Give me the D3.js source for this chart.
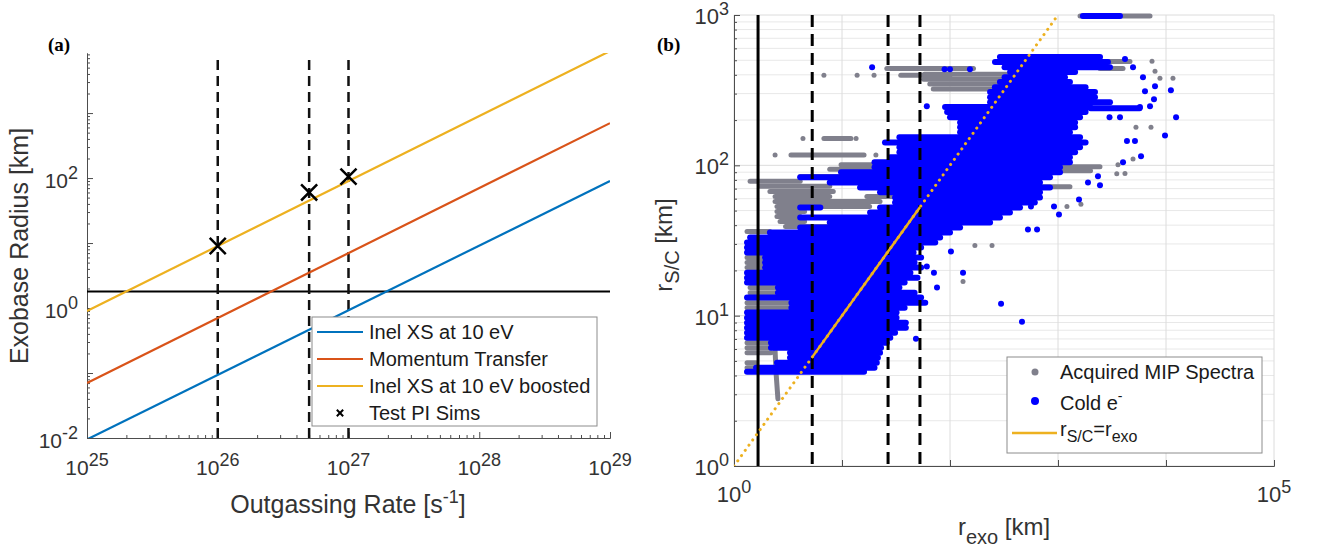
<!DOCTYPE html>
<html>
<head>
<meta charset="utf-8">
<script src="https://cdn.jsdelivr.net/npm/d3@7"></script>
<style>
  body { margin: 0; background: #fff; }
  svg text { font-family: "Liberation Sans", Arial, Helvetica, sans-serif; }
  svg text.panel { font-family: "Liberation Serif", "DejaVu Serif", serif; font-weight: bold; }
</style>
</head>
<body>
<div id="container"></div>
<script>
/* DATA */
// panel (a): straight lines in log-log, value at Q = 1e25 and at Q = 1e29
const qEnds = [1e25, 1e29]
const inelXS = [0.0095, 90]
const momentumTransfer = [0.07, 700]
const inelBoosted = [0.9, 9000]
const seriesNames = ["Inel XS at 10 eV", "Momentum Transfer", "Inel XS at 10 eV boosted"]
const seriesColors = ["#0072BD", "#D95319", "#EDB120"]
const simQ = [1e26, 5e26, 1e27]
const simR = [9, 60, 105]
const exoLimit = 1.8
const dashedQ = [1e26, 5e26, 1e27]

// panel (b): r_exo of the vertical markers
const solidExo = [1.67]
const dashedExo = [5.3, 26.7, 52.7]
const equalLine = [1, 1000]      // dotted r_S/C = r_exo
const equalSolid = [5.3, 52.7]   // solid part

// dense streaks of spectra: [r_S/C, r_exo from, r_exo to]
const grayStreaks = [
  [985, 1600, 7110], [490, 2448, 4640], [440, 26, 165], [440, 2448, 4000],
  [404, 58, 360], [398, 35, 100], [374, 57, 360], [347, 65, 290], [322, 70, 260],
  [151, 6.8, 12.1], [117, 3.37, 16], [101, 9.8, 35], [98, 1044, 2448],
  [94, 7.7, 34], [92, 1000, 2000], [84.2, 4.1, 34], [78.5, 1.41, 4.1],
  [72.5, 1.74, 7.7], [72, 681, 1290], [67, 2.15, 8.3], [62, 2.4, 7.7],
  [62, 17, 32], [57.5, 2.4, 22.5], [53.3, 2.5, 18], [49.3, 2.5, 4.5],
  [45.7, 2.5, 4.1], [42.3, 2.67, 4.5], [39.2, 3, 7.7], [36.3, 1.32, 2.15],
  [24.4, 1.32, 1.94], [22.6, 1.32, 1.94], [20.9, 1.32, 1.94],
  [15.4, 1.41, 2.55], [14.2, 1.41, 2.55], [12.2, 1.32, 3.4], [11.3, 1.32, 3.4],
  [6.61, 1.32, 2.2], [6.12, 1.32, 2.2], [5.67, 1.32, 2.2],
  [4.86, 1.32, 1.6], [4.5, 1.32, 1.6]
]
const grayTail = [[2.4, 5.9], [2.45, 4.2], [2.55, 2.8]]
const grayPoints = [
  [6.8, 398], [13.8, 398], [19.8, 398], [4.35, 151], [13.5, 151], [2.4, 117],
  [20.6, 117], [7420, 493], [7910, 423], [8790, 380], [11600, 380], [7260, 179],
  [5270, 179], [4950, 110], [3590, 101], [4170, 88.4], [3500, 88], [1630, 55],
  [1210, 53.3], [245, 29.3], [170, 29.3], [132, 16.9]
]
const blueStreaks = [
  [985, 1700, 3750],
  [525, 290, 2450], [486, 261, 2900], [450, 320, 3030], [417, 360, 1440],
  [386, 320, 1160], [358, 290, 1290], [331, 260, 1800], [307, 235, 2200],
  [284, 235, 2200], [263, 235, 3030], [244, 90, 1980], [240, 2000, 5700],
  [226, 94, 1800], [209, 100, 1600], [193, 124, 1440], [179, 124, 1440],
  [166, 124, 1290], [154, 34, 1600], [142, 25, 1800], [132, 34, 1600],
  [122, 34, 1440], [113, 28, 1290], [105, 20, 1290], [97, 20, 1044],
  [89.8, 9.8, 1044], [83.2, 4.1, 843], [77, 7.7, 681], [71.3, 14.7, 843],
  [66.1, 22.5, 681], [61.2, 31, 681], [56.7, 31, 610], [52.5, 4.1, 6.3],
  [52.5, 22.5, 445], [48.6, 18.2, 359], [45, 4.1, 290], [41.7, 7.7, 235],
  [38.6, 4.1, 124], [35.8, 2.15, 100], [33.1, 1.41, 81], [30.7, 1.32, 73],
  [28.4, 1.32, 54], [26.3, 1.32, 46], [24.4, 1.94, 54], [22.6, 1.94, 47],
  [20.9, 1.94, 54], [19.3, 1.32, 43], [17.9, 1.32, 50], [16.6, 1.32, 38],
  [15.4, 2.55, 34], [14.2, 2.55, 47], [13.2, 1.32, 54], [12.2, 3.4, 59],
  [11.3, 3.4, 38], [10.5, 1.32, 32], [9.7, 1.32, 32], [8.98, 1.32, 39],
  [8.32, 1.32, 39], [7.7, 1.32, 31], [7.13, 1.32, 28], [6.61, 2.2, 26],
  [6.12, 2.2, 23], [5.67, 3.3, 22.5], [5.25, 3.3, 21.5], [4.86, 2.5, 21],
  [4.5, 1.6, 20], [4.23, 1.32, 16]
]
const bluePoints = [
  [19, 450], [89, 436], [100, 436], [153, 436], [61, 247],
  [4170, 509], [4950, 450], [6120, 386], [7910, 336], [11100, 316], [6390, 311],
  [7740, 275], [5740, 244], [7110, 247], [12400, 209], [9790, 158], [4350, 145],
  [5160, 145], [5870, 115], [4000, 105], [2345, 84.5], [1895, 77], [2448, 73.6],
  [1565, 59.3], [918, 53.3], [1021, 47.1], [640, 37.4], [527, 37.4], [132, 19.3],
  [297, 12], [464, 9.12], [48.4, 7.03], [71, 19.3], [61, 21.2], [75.8, 15.4],
  [102, 26.7], [367, 53.3], [562, 53.3], [435, 62.1], [3000, 209], [3750, 209]
]

/* SETUP */
const width = 1317, height = 551
const AX = "#4d4d4d", TXT = "#333"
const GRAY = "#80808c", BLUE = "#0000ff", ORANGE = "#EDB120"

const svg = d3.select("#container").append("svg")
  .attr("width", width).attr("height", height)

const isMajor = v => Math.abs(Math.log10(v) - Math.round(Math.log10(v))) < 1e-9

function drawAxis(parent, orient, scale, pos, majors, minors, majLen, minLen) {
  const mk = orient === "bottom" ? d3.axisBottom : d3.axisLeft
  const g = parent.append("g")
    .attr("transform", orient === "bottom" ? `translate(0,${pos})` : `translate(${pos},0)`)
  g.append("g").call(mk(scale).tickValues(minors).tickSize(-minLen).tickSizeOuter(0).tickFormat(""))
  g.append("g").call(mk(scale).tickValues(majors).tickSize(-majLen).tickSizeOuter(0).tickFormat(""))
  g.selectAll("path.domain").attr("stroke", AX)
  g.selectAll(".tick line").attr("stroke", AX)
}

function powLabel(parent, x, y, exp, anchor, size, supSize, rise) {
  const t = parent.append("text").attr("x", x).attr("y", y)
    .attr("text-anchor", anchor).attr("font-size", size).attr("fill", TXT)
  t.append("tspan").text("10")
  t.append("tspan").attr("dy", -rise).attr("font-size", supSize).text(exp)
}

/* PANEL (a) */
const xA = d3.scaleLog().domain([1e25, 1e29]).range([87, 610])
const yA = d3.scaleLog().domain([1e-2, 8400]).range([438, 53])
const gA = svg.append("g")

svg.append("clipPath").attr("id", "clipA").append("rect")
  .attr("x", 87).attr("y", 53).attr("width", 523).attr("height", 385)

drawAxis(gA, "bottom", xA, 438, xA.ticks().filter(isMajor), xA.ticks().filter(v => !isMajor(v)), 6, 3)
drawAxis(gA, "left", yA, 87, yA.ticks().filter(isMajor), yA.ticks().filter(v => !isMajor(v)), 6, 3)

;[1e25, 1e26, 1e27, 1e28, 1e29].forEach(v =>
  powLabel(gA, xA(v), 475, String(Math.round(Math.log10(v))), "middle", 21, 18, 9))
;[1e-2, 1, 1e2].forEach(v =>
  powLabel(gA, 78, yA(v) + 10, String(Math.round(Math.log10(v))), "end", 21, 18, 9))

const plotA = gA.append("g").attr("clip-path", "url(#clipA)")

// horizontal exobase limit
plotA.append("line")
  .attr("x1", xA(1e25)).attr("x2", xA(1e29))
  .attr("y1", yA(exoLimit)).attr("y2", yA(exoLimit))
  .attr("stroke", "#000").attr("stroke-width", 2)

// dashed test outgassing rates
plotA.selectAll("line.dq").data(dashedQ).join("line")
  .attr("class", "dq")
  .attr("x1", d => xA(d)).attr("x2", d => xA(d))
  .attr("y1", yA(0.01)).attr("y2", 58)
  .attr("stroke", "#111").attr("stroke-width", 2.5).attr("stroke-dasharray", "10,6")

const seriesA = [inelXS, momentumTransfer, inelBoosted]
const lineA = d3.line().x(d => xA(d[0])).y(d => yA(d[1]))
seriesA.forEach((s, i) => {
  plotA.append("path")
    .datum(qEnds.map((q, j) => [q, s[j]]))
    .attr("d", lineA).attr("fill", "none")
    .attr("stroke", seriesColors[i]).attr("stroke-width", 2.2)
})

gA.selectAll("path.sim").data(simQ.map((q, i) => [q, simR[i]])).join("path")
  .attr("class", "sim")
  .attr("transform", d => `translate(${xA(d[0])},${yA(d[1])})`)
  .attr("d", d3.symbol(d3.symbolX).size(170))
  .attr("fill", "none").attr("stroke", "#000").attr("stroke-width", 2.5)

// legend (a)
const legA = gA.append("g")
legA.append("rect").attr("x", 312).attr("y", 317).attr("width", 285).attr("height", 109)
  .attr("fill", "#fff").attr("stroke", "#8c8c8c").attr("stroke-width", 1)
const legRowsA = [332, 359, 386, 413]
seriesNames.forEach((n, i) => {
  legA.append("line").attr("x1", 317).attr("x2", 363)
    .attr("y1", legRowsA[i]).attr("y2", legRowsA[i])
    .attr("stroke", seriesColors[i]).attr("stroke-width", 2)
  legA.append("text").attr("x", 369).attr("y", legRowsA[i] + 7)
    .attr("font-size", 20).attr("fill", "#1a1a1a").text(n)
})
legA.append("path").attr("transform", `translate(340,${legRowsA[3]})`)
  .attr("d", d3.symbol(d3.symbolX).size(28))
  .attr("fill", "none").attr("stroke", "#000").attr("stroke-width", 2)
legA.append("text").attr("x", 369).attr("y", legRowsA[3] + 7)
  .attr("font-size", 20).attr("fill", "#1a1a1a").text("Test PI Sims")

// axis titles (a)
gA.append("text").attr("transform", "translate(28,246) rotate(-90)")
  .attr("text-anchor", "middle").attr("font-size", 25).attr("fill", TXT)
  .text("Exobase Radius [km]")
const xtA = gA.append("text").attr("x", 348).attr("y", 513)
  .attr("text-anchor", "middle").attr("font-size", 25).attr("fill", TXT)
xtA.append("tspan").text("Outgassing Rate [s")
xtA.append("tspan").attr("dy", -10).attr("font-size", 18).text("-1")
xtA.append("tspan").attr("dy", 10).text("]")

gA.append("text").attr("class", "panel").attr("x", 48).attr("y", 51)
  .attr("font-size", 19).text("(a)")

/* PANEL (b) */
const xB = d3.scaleLog().domain([1, 1e5]).range([734, 1274])
const yB = d3.scaleLog().domain([1, 1000]).range([466, 15])
const gB = svg.append("g")

svg.append("clipPath").attr("id", "clipB").append("rect")
  .attr("x", 734).attr("y", 11).attr("width", 540).attr("height", 455)

// grid
const grid = gB.append("g")
grid.selectAll("line.hg").data(yB.ticks()).join("line")
  .attr("class", "hg")
  .attr("x1", xB(1)).attr("x2", xB(1e5))
  .attr("y1", d => yB(d)).attr("y2", d => yB(d))
  .attr("stroke", d => isMajor(d) ? "#dcdcdc" : "#e8e8e8").attr("stroke-width", 1)
grid.selectAll("line.vg").data(xB.ticks().filter(isMajor)).join("line")
  .attr("class", "vg")
  .attr("x1", d => xB(d)).attr("x2", d => xB(d))
  .attr("y1", yB(1)).attr("y2", yB(1000))
  .attr("stroke", "#dcdcdc").attr("stroke-width", 1)

drawAxis(gB, "bottom", xB, 466, xB.ticks().filter(isMajor), [], 6, 0)
drawAxis(gB, "left", yB, 734, yB.ticks().filter(isMajor), yB.ticks().filter(v => !isMajor(v)), 6, 3)

;[1, 1e5].forEach(v =>
  powLabel(gB, xB(v), 502, String(Math.round(Math.log10(v))), "middle", 22, 18, 9))
;[1, 10, 100, 1000].forEach(v =>
  powLabel(gB, 729, yB(v) + 9, String(Math.round(Math.log10(v))), "end", 22, 18, 9))

const plotB = gB.append("g").attr("clip-path", "url(#clipB)")

plotB.selectAll("line.gs").data(grayStreaks).join("line")
  .attr("class", "gs")
  .attr("x1", d => xB(d[1])).attr("x2", d => xB(d[2]))
  .attr("y1", d => yB(d[0])).attr("y2", d => yB(d[0]))
  .attr("stroke", GRAY).attr("stroke-width", 5).attr("stroke-linecap", "round")
plotB.append("path").datum(grayTail)
  .attr("d", d3.line().x(d => xB(d[0])).y(d => yB(d[1])))
  .attr("fill", "none").attr("stroke", GRAY).attr("stroke-width", 5).attr("stroke-linecap", "round")
plotB.selectAll("circle.gp").data(grayPoints).join("circle")
  .attr("class", "gp")
  .attr("cx", d => xB(d[0])).attr("cy", d => yB(d[1])).attr("r", 2.5).attr("fill", GRAY)

plotB.selectAll("line.bs").data(blueStreaks).join("line")
  .attr("class", "bs")
  .attr("x1", d => xB(d[1])).attr("x2", d => xB(d[2]))
  .attr("y1", d => yB(d[0])).attr("y2", d => yB(d[0]))
  .attr("stroke", BLUE).attr("stroke-width", 6).attr("stroke-linecap", "round")
plotB.selectAll("circle.bp").data(bluePoints).join("circle")
  .attr("class", "bp")
  .attr("cx", d => xB(d[0])).attr("cy", d => yB(d[1])).attr("r", 3).attr("fill", BLUE)

// vertical markers
plotB.selectAll("line.sv").data(solidExo).join("line")
  .attr("class", "sv")
  .attr("x1", d => xB(d)).attr("x2", d => xB(d))
  .attr("y1", yB(1)).attr("y2", yB(1000))
  .attr("stroke", "#000").attr("stroke-width", 3)
plotB.selectAll("line.dv").data(dashedExo).join("line")
  .attr("class", "dv")
  .attr("x1", d => xB(d)).attr("x2", d => xB(d))
  .attr("y1", yB(1000)).attr("y2", yB(1))
  .attr("stroke", "#000").attr("stroke-width", 3).attr("stroke-dasharray", "12,7")

// r_S/C = r_exo
const lineB = d3.line().x(d => xB(d)).y(d => yB(d))
plotB.append("path").datum(equalLine).attr("d", lineB)
  .attr("fill", "none").attr("stroke", ORANGE).attr("stroke-width", 3)
  .attr("stroke-linecap", "round").attr("stroke-dasharray", "0.1,6.3")
plotB.append("path").datum(equalSolid).attr("d", lineB)
  .attr("fill", "none").attr("stroke", ORANGE).attr("stroke-width", 2.5)

// legend (b)
const legB = gB.append("g")
legB.append("rect").attr("x", 1007).attr("y", 357).attr("width", 255).attr("height", 96)
  .attr("fill", "#fff").attr("stroke", "#8c8c8c").attr("stroke-width", 1)
legB.append("circle").attr("cx", 1035).attr("cy", 372).attr("r", 3.5).attr("fill", GRAY)
legB.append("text").attr("x", 1060).attr("y", 379).attr("font-size", 20).attr("fill", "#1a1a1a")
  .text("Acquired MIP Spectra")
legB.append("circle").attr("cx", 1035).attr("cy", 401).attr("r", 4).attr("fill", BLUE)
const coldT = legB.append("text").attr("x", 1060).attr("y", 410).attr("font-size", 20).attr("fill", "#1a1a1a")
coldT.append("tspan").text("Cold e")
coldT.append("tspan").attr("dy", -9).attr("font-size", 14).text("-")
legB.append("line").attr("x1", 1012).attr("x2", 1057).attr("y1", 433).attr("y2", 433)
  .attr("stroke", ORANGE).attr("stroke-width", 2.5)
const eqT = legB.append("text").attr("x", 1060).attr("y", 436).attr("font-size", 20).attr("fill", "#1a1a1a")
eqT.append("tspan").text("r")
eqT.append("tspan").attr("dy", 6).attr("font-size", 16).text("S/C")
eqT.append("tspan").attr("dy", -6).text("=r")
eqT.append("tspan").attr("dy", 6).attr("font-size", 16).text("exo")

// axis titles (b)
const ytB = gB.append("text").attr("transform", "translate(672,245) rotate(-90)")
  .attr("text-anchor", "middle").attr("font-size", 24).attr("fill", TXT)
ytB.append("tspan").text("r")
ytB.append("tspan").attr("dy", 7).attr("font-size", 20).text("S/C")
ytB.append("tspan").attr("dy", -7).text(" [km]")
const xtB = gB.append("text").attr("x", 1004).attr("y", 535)
  .attr("text-anchor", "middle").attr("font-size", 24).attr("fill", TXT)
xtB.append("tspan").text("r")
xtB.append("tspan").attr("dy", 9).attr("font-size", 20).text("exo")
xtB.append("tspan").attr("dy", -9).text(" [km]")

gB.append("text").attr("class", "panel").attr("x", 657).attr("y", 51)
  .attr("font-size", 19).text("(b)")
</script>
</body>
</html>
